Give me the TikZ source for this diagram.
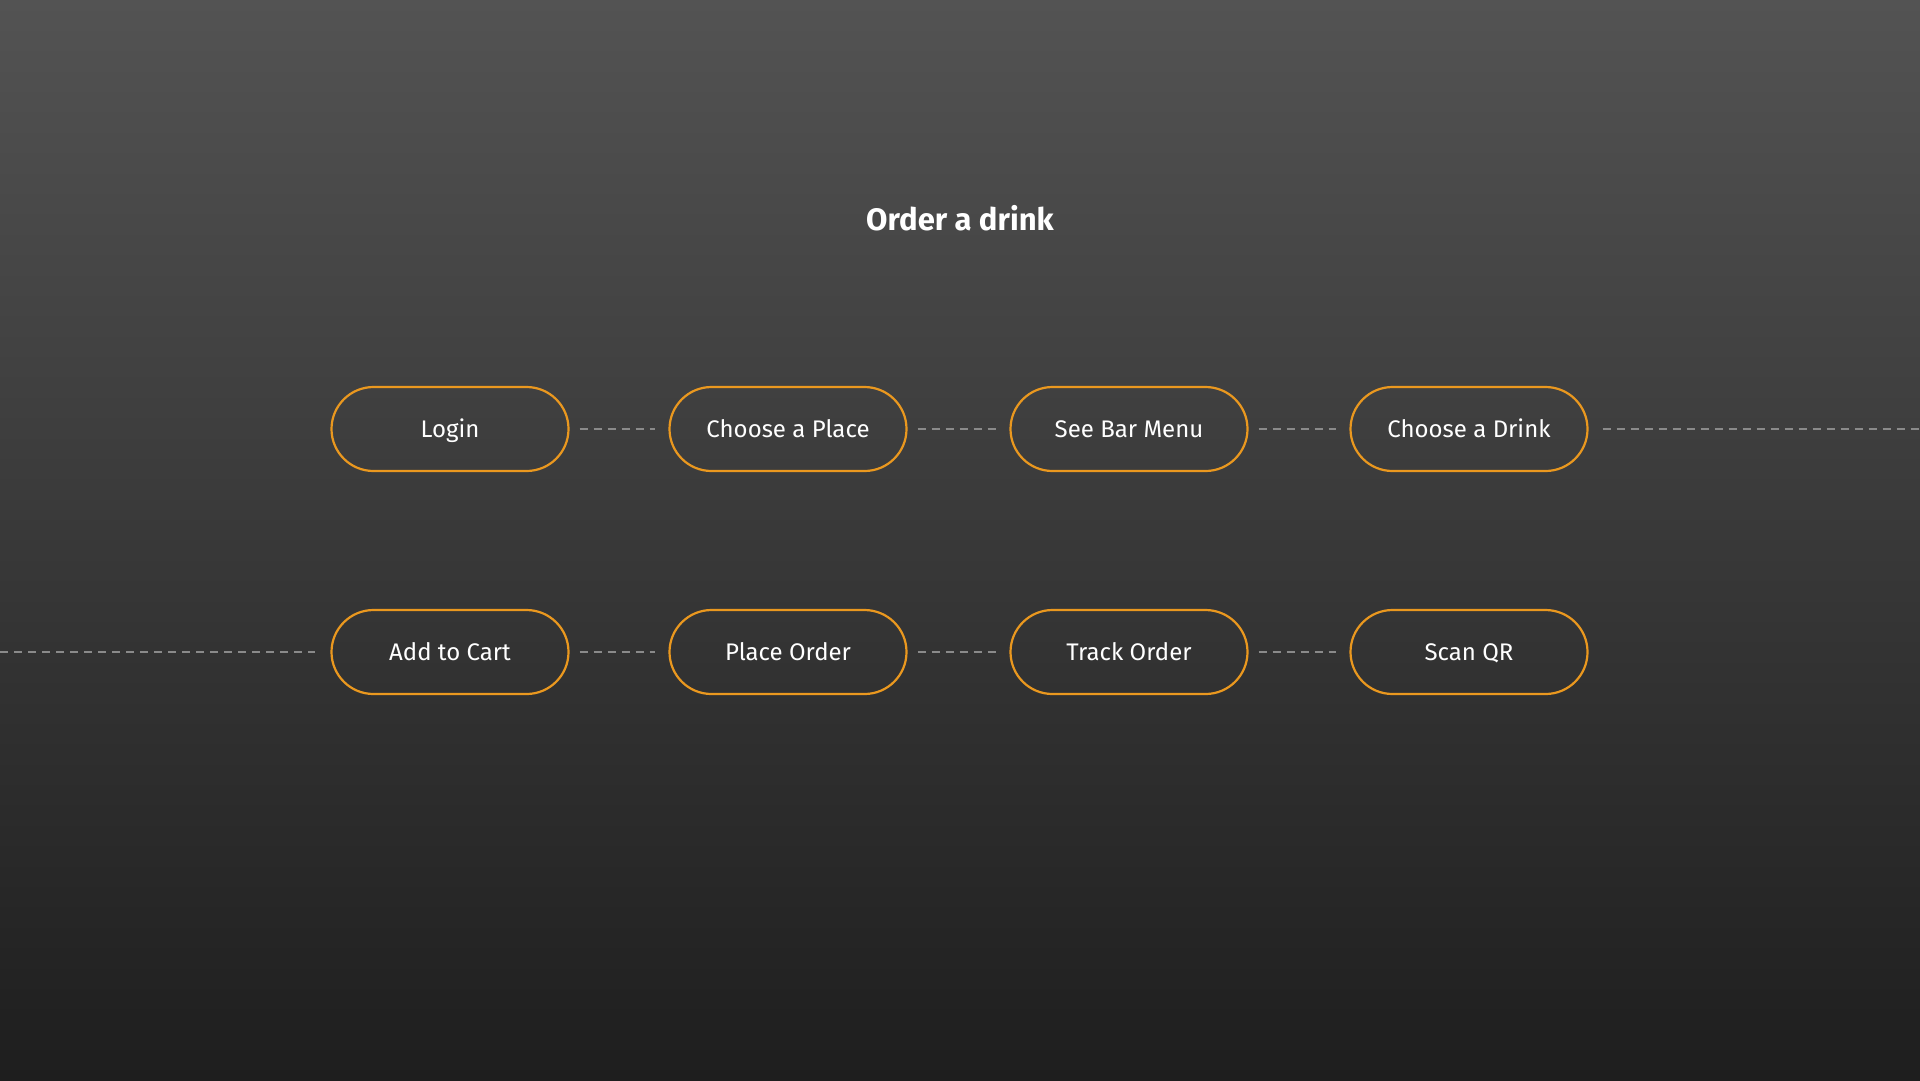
\documentclass[tikz,border=0pt]{standalone}
\usepackage{fontspec}
\setmainfont{Fira Sans}
\definecolor{bgtop}{HTML}{535353}
\definecolor{bgbot}{HTML}{1E1E1E}
\definecolor{pillorange}{HTML}{EA981F}
\definecolor{dashgray}{HTML}{8A8A8A}
\begin{document}
\begin{tikzpicture}[x=1pt,y=-1pt,
  pill/.style={draw=pillorange, line width=2.2pt, rounded corners=42pt,
    minimum width=237pt, minimum height=84pt, inner sep=0pt,
    text height=19pt, text depth=2pt,
    text=white, font=\fontsize{24}{28}\selectfont},
  conn/.style={draw=dashgray, line width=2.5pt, dash pattern=on 8pt off 6pt},
  titlestyle/.style={text=white, font=\fontsize{31}{36}\selectfont\bfseries}]
\shade[top color=bgtop, bottom color=bgbot] (0,0) rectangle (1920,1080);
\useasboundingbox (0,0) rectangle (1920,1080);

\node[titlestyle] (title) at (960,218) {Order a drink};

\node[pill] (login) at (450,429) {Login};
\node[pill] (place) at (788,429) {Choose a Place};
\node[pill] (menu)  at (1129,429) {See Bar Menu};
\node[pill] (drink) at (1469,429) {Choose a Drink};

\node[pill] (cart)  at (450,652) {Add to Cart};
\node[pill] (order) at (788,652) {Place Order};
\node[pill] (track) at (1129,652) {Track Order};
\node[pill] (scan)  at (1469,652) {Scan QR};

\coordinate (rightend) at (1920,429);
\coordinate (leftend) at (0,652);

\draw[conn, shorten <=10pt, shorten >=13pt] (login) -- (place);
\draw[conn, shorten <=10pt, shorten >=13pt] (place) -- (menu);
\draw[conn, shorten <=10pt, shorten >=13pt] (menu) -- (drink);
\draw[conn, shorten <=14pt] (drink) -- (rightend);

\draw[conn, shorten >=15pt] (leftend) -- (cart);
\draw[conn, shorten <=10pt, shorten >=13pt] (cart) -- (order);
\draw[conn, shorten <=10pt, shorten >=13pt] (order) -- (track);
\draw[conn, shorten <=10pt, shorten >=13pt] (track) -- (scan);
\end{tikzpicture}
\end{document}
